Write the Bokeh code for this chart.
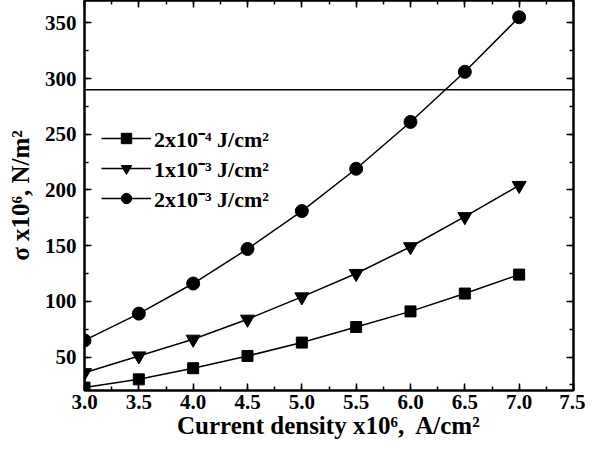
from bokeh.plotting import figure
from bokeh.models import (SingleIntervalTicker, LinearAxis, Span, Range1d, Legend, LegendItem,
                          NumeralTickFormatter)
from bokeh.embed import file_html
from bokeh.resources import INLINE

current_density = [3.0, 3.5, 4.0, 4.5, 5.0, 5.5, 6.0, 6.5, 7.0]
sigma_2e4 = [22.6, 30, 40, 51, 63, 77, 91, 107, 124]
sigma_1e3 = [36, 51, 66, 84, 104, 125, 149, 176, 204]
sigma_2e3 = [65, 89, 116, 147, 181, 219, 261, 306, 355]
threshold = 290
labels = ["2x10\u207b\u2074 J/cm\u00b2", "1x10\u207b\u00b3 J/cm\u00b2", "2x10\u207b\u00b3 J/cm\u00b2"]

FONT = "Liberation Serif"

p = figure(width=585, height=441, output_backend="svg", toolbar_location=None,
           x_range=Range1d(3.0, 7.5), y_range=Range1d(20, 370),
           min_border_left=84, min_border_right=12, min_border_top=0, min_border_bottom=0)
p.grid.visible = False
p.outline_line_color = "black"
p.outline_line_width = 2
p.background_fill_color = "white"

p.xaxis.ticker = SingleIntervalTicker(interval=0.5, num_minor_ticks=2)
p.xaxis.formatter = NumeralTickFormatter(format="0.0")
p.yaxis.ticker = SingleIntervalTicker(interval=50, num_minor_ticks=2)
p.xaxis.axis_label = "Current density x10\u2076,\u00a0 A/cm\u00b2"
p.yaxis.axis_label = "\u03c3 x10\u2076, N/m\u00b2"

for ax in [p.xaxis[0], p.yaxis[0]]:
    ax.axis_line_width = 2
    ax.major_tick_in = 7
    ax.major_tick_out = 0
    ax.minor_tick_in = 4
    ax.minor_tick_out = 0
    ax.major_tick_line_width = 1.5
    ax.minor_tick_line_width = 1.5
    ax.major_label_text_font = FONT
    ax.major_label_text_font_style = "bold"
    ax.major_label_text_font_size = "21px"
    ax.major_label_text_color = "black"
    ax.axis_label_text_font = FONT
    ax.axis_label_text_font_style = "bold"
    ax.axis_label_text_font_size = "25px"
    ax.axis_label_text_color = "black"
p.xaxis.major_label_standoff = 4
p.xaxis.axis_label_standoff = 0
p.yaxis.major_label_standoff = 8
p.yaxis.axis_label_standoff = 8

for loc, interval in [("right", 50), ("above", 0.5)]:
    ax = LinearAxis(ticker=SingleIntervalTicker(interval=interval, num_minor_ticks=2))
    ax.axis_line_width = 2
    ax.major_tick_in = 7
    ax.major_tick_out = 0
    ax.minor_tick_in = 4
    ax.minor_tick_out = 0
    ax.major_tick_line_width = 1.5
    ax.minor_tick_line_width = 1.5
    ax.major_label_text_font_size = "0px"
    ax.major_label_text_color = None
    ax.major_label_standoff = 0
    p.add_layout(ax, loc)

p.add_layout(Span(location=threshold, dimension="width", line_color="black", line_width=1.5))

items = []
for ys, marker, size, lab in [(sigma_2e4, "square", 11, labels[0]),
                               (sigma_1e3, "inverted_triangle", 14, labels[1]),
                               (sigma_2e3, "circle", 13, labels[2])]:
    l = p.line(current_density, ys, line_color="black", line_width=1.5)
    s = p.scatter(current_density, ys, marker=marker, size=size, fill_color="black", line_color="black")
    items.append(LegendItem(label=lab, renderers=[l, s]))

legend = Legend(items=items, location=(17, 177))
legend.glyph_width = 50
legend.glyph_height = 26
legend.label_height = 26
legend.spacing = 0
legend.padding = 0
legend.margin = 0
legend.label_standoff = 3
legend.border_line_alpha = 0
legend.background_fill_alpha = 0
legend.label_text_font = FONT
legend.label_text_font_style = "bold"
legend.label_text_font_size = "22px"
legend.label_text_color = "black"
p.add_layout(legend)

open("out.html", "w").write(file_html(p, INLINE))
